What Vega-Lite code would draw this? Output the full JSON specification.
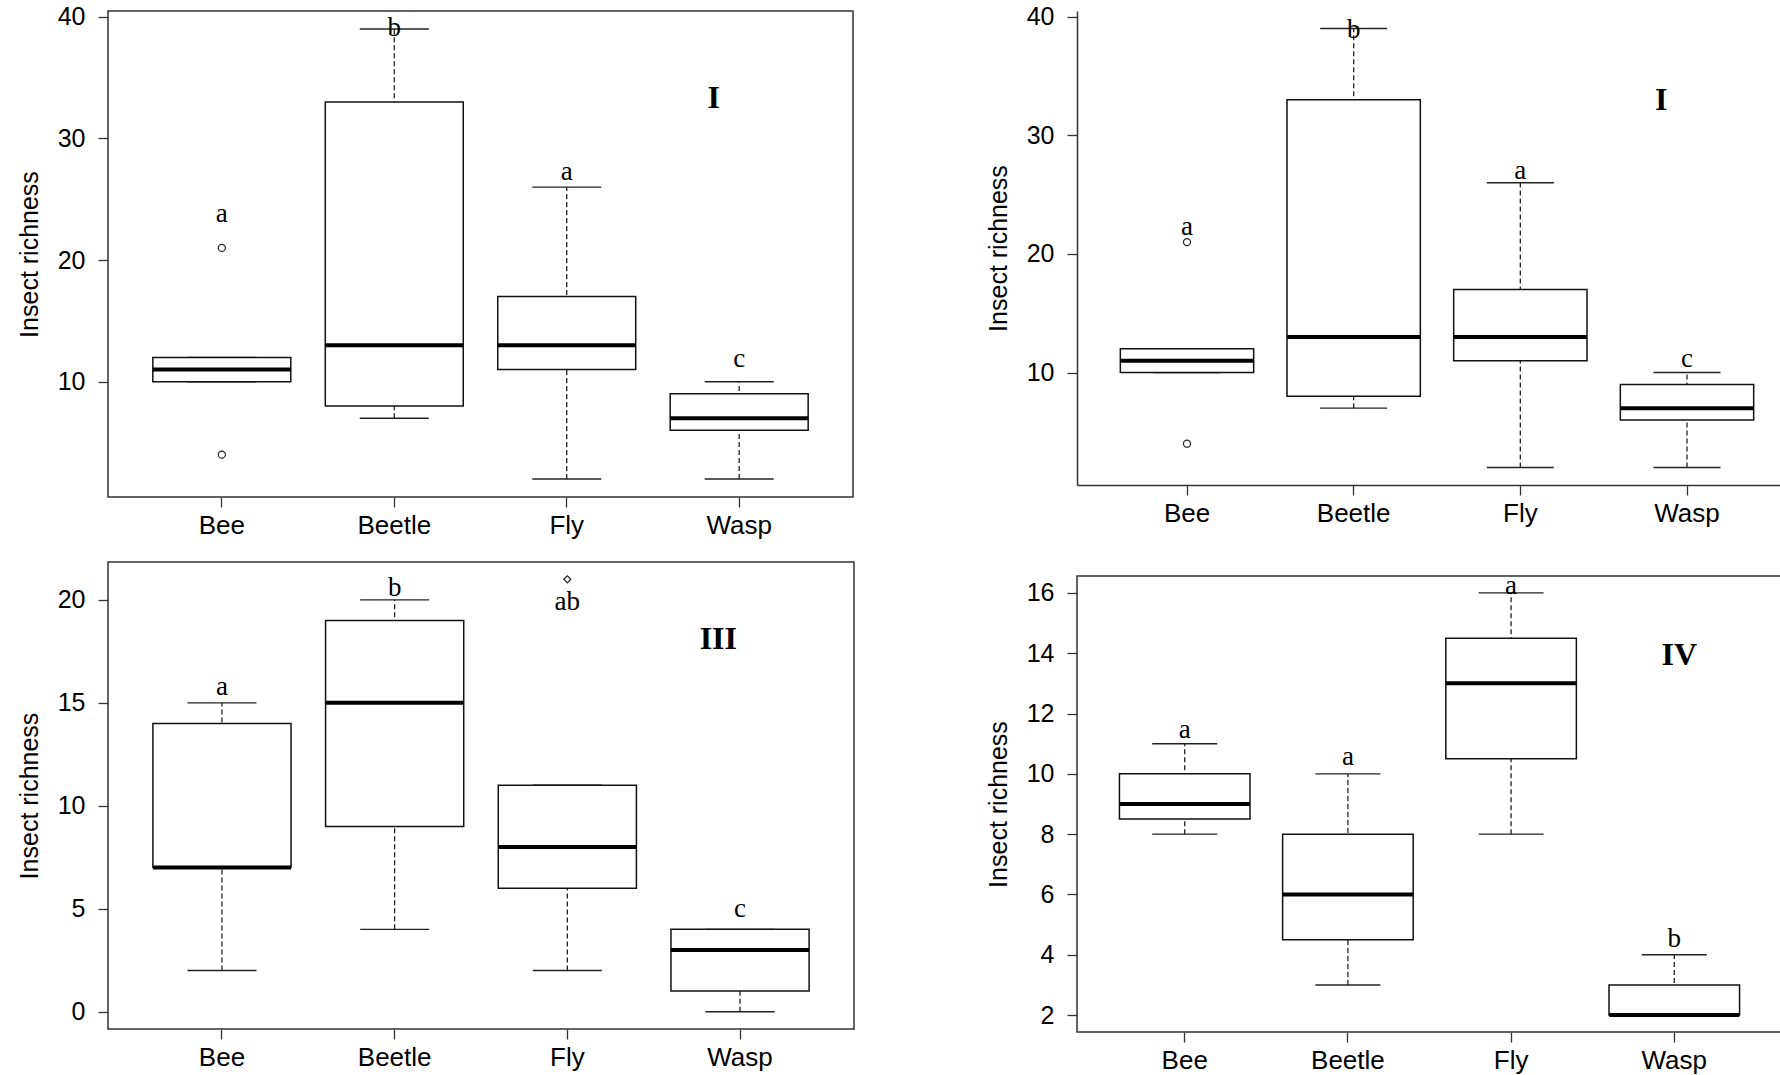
{
  "$schema": "https://vega.github.io/schema/vega-lite/v6.json",
  "background": "white",
  "padding": {"left": 16, "top": 4, "right": 0, "bottom": 0},
  "config": {
    "view": {"stroke": "#333", "strokeWidth": 1.5},
    "tick": {"opacity": 1},
    "axis": {"labelFont": "Liberation Sans", "labelFontSize": 25, "labelColor": "#000", "tickColor": "#333", "tickWidth": 1.3, "tickSize": 10, "domain": false, "grid": false, "titleFont": "Liberation Sans", "titleFontSize": 25, "titleFontWeight": "normal", "titleColor": "#000"},
    "axisX": {"labelFontSize": 26, "labelPadding": 5, "labelAngle": 0},
    "axisY": {"labelPadding": 13, "titlePadding": 15}
  },
  "datasets": {
    "boxes": [
      {"panel": "I", "taxon": "Bee", "lo": 10, "q1": 10, "med": 11, "q3": 12, "hi": 12},
      {"panel": "I", "taxon": "Beetle", "lo": 7, "q1": 8, "med": 13, "q3": 33, "hi": 39},
      {"panel": "I", "taxon": "Fly", "lo": 2, "q1": 11, "med": 13, "q3": 17, "hi": 26},
      {"panel": "I", "taxon": "Wasp", "lo": 2, "q1": 6, "med": 7, "q3": 9, "hi": 10},
      {"panel": "II", "taxon": "Bee", "lo": 10, "q1": 10, "med": 11, "q3": 12, "hi": 12},
      {"panel": "II", "taxon": "Beetle", "lo": 7, "q1": 8, "med": 13, "q3": 33, "hi": 39},
      {"panel": "II", "taxon": "Fly", "lo": 2, "q1": 11, "med": 13, "q3": 17, "hi": 26},
      {"panel": "II", "taxon": "Wasp", "lo": 2, "q1": 6, "med": 7, "q3": 9, "hi": 10},
      {"panel": "III", "taxon": "Bee", "lo": 2, "q1": 7, "med": 7, "q3": 14, "hi": 15},
      {"panel": "III", "taxon": "Beetle", "lo": 4, "q1": 9, "med": 15, "q3": 19, "hi": 20},
      {"panel": "III", "taxon": "Fly", "lo": 2, "q1": 6, "med": 8, "q3": 11, "hi": 11},
      {"panel": "III", "taxon": "Wasp", "lo": 0, "q1": 1, "med": 3, "q3": 4, "hi": 4},
      {"panel": "IV", "taxon": "Bee", "lo": 8, "q1": 8.5, "med": 9, "q3": 10, "hi": 11},
      {"panel": "IV", "taxon": "Beetle", "lo": 3, "q1": 4.5, "med": 6, "q3": 8, "hi": 10},
      {"panel": "IV", "taxon": "Fly", "lo": 8, "q1": 10.5, "med": 13, "q3": 14.5, "hi": 16},
      {"panel": "IV", "taxon": "Wasp", "lo": 2, "q1": 2, "med": 2, "q3": 3, "hi": 4}
    ],
    "outliers": [
      {"panel": "I", "taxon": "Bee", "value": 21},
      {"panel": "I", "taxon": "Bee", "value": 4},
      {"panel": "II", "taxon": "Bee", "value": 21},
      {"panel": "II", "taxon": "Bee", "value": 4},
      {"panel": "III", "taxon": "Fly", "value": 21}
    ],
    "letters": [
      {"panel": "I", "taxon": "Bee", "letter": "a", "y": 23.1},
      {"panel": "I", "taxon": "Beetle", "letter": "b", "y": 38.4},
      {"panel": "I", "taxon": "Fly", "letter": "a", "y": 26.6},
      {"panel": "I", "taxon": "Wasp", "letter": "c", "y": 11.2},
      {"panel": "II", "taxon": "Bee", "letter": "a", "y": 21.6},
      {"panel": "II", "taxon": "Beetle", "letter": "b", "y": 38.2},
      {"panel": "II", "taxon": "Fly", "letter": "a", "y": 26.3},
      {"panel": "II", "taxon": "Wasp", "letter": "c", "y": 10.5},
      {"panel": "III", "taxon": "Bee", "letter": "a", "y": 15.4},
      {"panel": "III", "taxon": "Beetle", "letter": "b", "y": 20.2},
      {"panel": "III", "taxon": "Fly", "letter": "ab", "y": 19.5},
      {"panel": "III", "taxon": "Wasp", "letter": "c", "y": 4.6},
      {"panel": "IV", "taxon": "Bee", "letter": "a", "y": 11.2},
      {"panel": "IV", "taxon": "Beetle", "letter": "a", "y": 10.3},
      {"panel": "IV", "taxon": "Fly", "letter": "a", "y": 15.95},
      {"panel": "IV", "taxon": "Wasp", "letter": "b", "y": 4.25}
    ],
    "numerals": [
      {"panel": "I", "taxon": "Fly", "label": "I", "y": 32.5},
      {"panel": "II", "taxon": "Fly", "label": "I", "y": 32.1},
      {"panel": "III", "taxon": "Fly", "label": "III", "y": 17.6},
      {"panel": "IV", "taxon": "Wasp", "label": "IV", "y": 13.6}
    ]
  },
  "hconcat": [
    {
      "bounds": "flush",
      "spacing": 65,
      "vconcat": [
        {
          "width": 745, "height": 486,
          "layer": [
            {"data": {"name": "boxes"}, "transform": [{"filter": "datum.panel === 'I'"}],
             "mark": {"type": "rule", "strokeDash": [5, 3], "strokeWidth": 1.3, "color": "#222"},
             "encoding": {
               "x": {"field": "taxon", "type": "nominal", "title": null, "scale": {"paddingInner": 0, "paddingOuter": 0.16}},
               "y": {"field": "lo", "type": "quantitative", "title": "Insect richness", "scale": {"domain": [0.52, 40.48], "nice": false, "zero": false}, "axis": {"values": [10, 20, 30, 40]}},
               "y2": {"field": "hi"}}},
            {"data": {"name": "boxes"}, "transform": [{"filter": "datum.panel === 'I'"}],
             "mark": {"type": "tick", "size": 69, "thickness": 1.4, "color": "#222"},
             "encoding": {"x": {"field": "taxon", "type": "nominal", "title": null}, "y": {"field": "lo", "type": "quantitative", "title": "Insect richness"}}},
            {"data": {"name": "boxes"}, "transform": [{"filter": "datum.panel === 'I'"}],
             "mark": {"type": "tick", "size": 69, "thickness": 1.4, "color": "#222"},
             "encoding": {"x": {"field": "taxon", "type": "nominal", "title": null}, "y": {"field": "hi", "type": "quantitative", "title": "Insect richness"}}},
            {"data": {"name": "boxes"}, "transform": [{"filter": "datum.panel === 'I'"}],
             "mark": {"type": "bar", "width": {"band": 0.8}, "fill": "white", "stroke": "#111", "strokeWidth": 1.5},
             "encoding": {"x": {"field": "taxon", "type": "nominal", "title": null}, "y": {"field": "q1", "type": "quantitative", "title": "Insect richness"}, "y2": {"field": "q3"}}},
            {"data": {"name": "boxes"}, "transform": [{"filter": "datum.panel === 'I'"}],
             "mark": {"type": "tick", "size": 138, "thickness": 4, "color": "#000"},
             "encoding": {"x": {"field": "taxon", "type": "nominal", "title": null}, "y": {"field": "med", "type": "quantitative", "title": "Insect richness"}}},
            {"data": {"name": "outliers"}, "transform": [{"filter": "datum.panel === 'I'"}],
             "mark": {"type": "point", "shape": "circle", "filled": false, "size": 50, "strokeWidth": 1.2, "color": "#222", "opacity": 1},
             "encoding": {"x": {"field": "taxon", "type": "nominal", "title": null}, "y": {"field": "value", "type": "quantitative", "title": "Insect richness"}}},
            {"data": {"name": "letters"}, "transform": [{"filter": "datum.panel === 'I'"}],
             "mark": {"type": "text", "font": "Liberation Serif", "fontSize": 27, "color": "#000", "baseline": "alphabetic", "align": "center"},
             "encoding": {"x": {"field": "taxon", "type": "nominal", "title": null}, "y": {"field": "y", "type": "quantitative", "title": "Insect richness"}, "text": {"field": "letter"}}},
            {"data": {"name": "numerals"}, "transform": [{"filter": "datum.panel === 'I'"}],
             "mark": {"type": "text", "font": "Liberation Serif", "fontSize": 32, "fontWeight": "bold", "color": "#000", "baseline": "alphabetic", "align": "center", "dx": 147},
             "encoding": {"x": {"field": "taxon", "type": "nominal", "title": null}, "y": {"field": "y", "type": "quantitative", "title": "Insect richness"}, "text": {"field": "label"}}}
          ]
        },
        {
          "width": 746, "height": 467,
          "layer": [
            {"data": {"name": "boxes"}, "transform": [{"filter": "datum.panel === 'III'"}],
             "mark": {"type": "rule", "strokeDash": [5, 3], "strokeWidth": 1.3, "color": "#222"},
             "encoding": {
               "x": {"field": "taxon", "type": "nominal", "title": null, "scale": {"paddingInner": 0, "paddingOuter": 0.16}},
               "y": {"field": "lo", "type": "quantitative", "title": "Insect richness", "scale": {"domain": [-0.84, 21.84], "nice": false, "zero": false}, "axis": {"values": [0, 5, 10, 15, 20]}},
               "y2": {"field": "hi"}}},
            {"data": {"name": "boxes"}, "transform": [{"filter": "datum.panel === 'III'"}],
             "mark": {"type": "tick", "size": 69, "thickness": 1.4, "color": "#222"},
             "encoding": {"x": {"field": "taxon", "type": "nominal", "title": null}, "y": {"field": "lo", "type": "quantitative", "title": "Insect richness"}}},
            {"data": {"name": "boxes"}, "transform": [{"filter": "datum.panel === 'III'"}],
             "mark": {"type": "tick", "size": 69, "thickness": 1.4, "color": "#222"},
             "encoding": {"x": {"field": "taxon", "type": "nominal", "title": null}, "y": {"field": "hi", "type": "quantitative", "title": "Insect richness"}}},
            {"data": {"name": "boxes"}, "transform": [{"filter": "datum.panel === 'III'"}],
             "mark": {"type": "bar", "width": {"band": 0.8}, "fill": "white", "stroke": "#111", "strokeWidth": 1.5},
             "encoding": {"x": {"field": "taxon", "type": "nominal", "title": null}, "y": {"field": "q1", "type": "quantitative", "title": "Insect richness"}, "y2": {"field": "q3"}}},
            {"data": {"name": "boxes"}, "transform": [{"filter": "datum.panel === 'III'"}],
             "mark": {"type": "tick", "size": 138, "thickness": 4, "color": "#000"},
             "encoding": {"x": {"field": "taxon", "type": "nominal", "title": null}, "y": {"field": "med", "type": "quantitative", "title": "Insect richness"}}},
            {"data": {"name": "outliers"}, "transform": [{"filter": "datum.panel === 'III'"}],
             "mark": {"type": "point", "shape": "diamond", "filled": false, "size": 50, "strokeWidth": 1.2, "color": "#222", "opacity": 1},
             "encoding": {"x": {"field": "taxon", "type": "nominal", "title": null}, "y": {"field": "value", "type": "quantitative", "title": "Insect richness"}}},
            {"data": {"name": "letters"}, "transform": [{"filter": "datum.panel === 'III'"}],
             "mark": {"type": "text", "font": "Liberation Serif", "fontSize": 27, "color": "#000", "baseline": "alphabetic", "align": "center"},
             "encoding": {"x": {"field": "taxon", "type": "nominal", "title": null}, "y": {"field": "y", "type": "quantitative", "title": "Insect richness"}, "text": {"field": "letter"}}},
            {"data": {"name": "numerals"}, "transform": [{"filter": "datum.panel === 'III'"}],
             "mark": {"type": "text", "font": "Liberation Serif", "fontSize": 32, "fontWeight": "bold", "color": "#000", "baseline": "alphabetic", "align": "center", "dx": 151},
             "encoding": {"x": {"field": "taxon", "type": "nominal", "title": null}, "y": {"field": "y", "type": "quantitative", "title": "Insect richness"}, "text": {"field": "label"}}}
          ]
        }
      ]
    },
    {
      "bounds": "flush",
      "spacing": 91,
      "vconcat": [
        {
          "width": 706, "height": 474,
          "view": {"stroke": null},
          "layer": [
            {"data": {"name": "boxes"}, "transform": [{"filter": "datum.panel === 'II'"}],
             "mark": {"type": "rule", "strokeDash": [5, 3], "strokeWidth": 1.3, "color": "#222"},
             "encoding": {
               "x": {"field": "taxon", "type": "nominal", "title": null, "scale": {"paddingInner": 0, "paddingOuter": 0.118, "align": 0.678}, "axis": {"domain": true, "domainColor": "#333", "domainWidth": 1.5}},
               "y": {"field": "lo", "type": "quantitative", "title": "Insect richness", "scale": {"domain": [0.52, 40.48], "nice": false, "zero": false}, "axis": {"values": [10, 20, 30, 40], "domain": true, "domainColor": "#333", "domainWidth": 1.5}},
               "y2": {"field": "hi"}}},
            {"mark": {"type": "rule", "color": "#333", "strokeWidth": 1.5},
             "encoding": {"y": {"datum": 40.48, "type": "quantitative"}}},
            {"data": {"name": "boxes"}, "transform": [{"filter": "datum.panel === 'II'"}],
             "mark": {"type": "tick", "size": 67, "thickness": 1.4, "color": "#222"},
             "encoding": {"x": {"field": "taxon", "type": "nominal", "title": null}, "y": {"field": "lo", "type": "quantitative", "title": "Insect richness"}}},
            {"data": {"name": "boxes"}, "transform": [{"filter": "datum.panel === 'II'"}],
             "mark": {"type": "tick", "size": 67, "thickness": 1.4, "color": "#222"},
             "encoding": {"x": {"field": "taxon", "type": "nominal", "title": null}, "y": {"field": "hi", "type": "quantitative", "title": "Insect richness"}}},
            {"data": {"name": "boxes"}, "transform": [{"filter": "datum.panel === 'II'"}],
             "mark": {"type": "bar", "width": {"band": 0.8}, "fill": "white", "stroke": "#111", "strokeWidth": 1.5},
             "encoding": {"x": {"field": "taxon", "type": "nominal", "title": null}, "y": {"field": "q1", "type": "quantitative", "title": "Insect richness"}, "y2": {"field": "q3"}}},
            {"data": {"name": "boxes"}, "transform": [{"filter": "datum.panel === 'II'"}],
             "mark": {"type": "tick", "size": 133, "thickness": 4, "color": "#000"},
             "encoding": {"x": {"field": "taxon", "type": "nominal", "title": null}, "y": {"field": "med", "type": "quantitative", "title": "Insect richness"}}},
            {"data": {"name": "outliers"}, "transform": [{"filter": "datum.panel === 'II'"}],
             "mark": {"type": "point", "shape": "circle", "filled": false, "size": 50, "strokeWidth": 1.2, "color": "#222", "opacity": 1},
             "encoding": {"x": {"field": "taxon", "type": "nominal", "title": null}, "y": {"field": "value", "type": "quantitative", "title": "Insect richness"}}},
            {"data": {"name": "letters"}, "transform": [{"filter": "datum.panel === 'II'"}],
             "mark": {"type": "text", "font": "Liberation Serif", "fontSize": 27, "color": "#000", "baseline": "alphabetic", "align": "center"},
             "encoding": {"x": {"field": "taxon", "type": "nominal", "title": null}, "y": {"field": "y", "type": "quantitative", "title": "Insect richness"}, "text": {"field": "letter"}}},
            {"data": {"name": "numerals"}, "transform": [{"filter": "datum.panel === 'II'"}],
             "mark": {"type": "text", "font": "Liberation Serif", "fontSize": 32, "fontWeight": "bold", "color": "#000", "baseline": "alphabetic", "align": "center", "dx": 141},
             "encoding": {"x": {"field": "taxon", "type": "nominal", "title": null}, "y": {"field": "y", "type": "quantitative", "title": "Insect richness"}, "text": {"field": "label"}}}
          ]
        },
        {
          "width": 705, "height": 456,
          "layer": [
            {"data": {"name": "boxes"}, "transform": [{"filter": "datum.panel === 'IV'"}],
             "mark": {"type": "rule", "strokeDash": [5, 3], "strokeWidth": 1.3, "color": "#222"},
             "encoding": {
               "x": {"field": "taxon", "type": "nominal", "title": null, "scale": {"paddingInner": 0, "paddingOuter": 0.16}},
               "y": {"field": "lo", "type": "quantitative", "title": "Insect richness", "scale": {"domain": [1.44, 16.56], "nice": false, "zero": false}, "axis": {"values": [2, 4, 6, 8, 10, 12, 14, 16]}},
               "y2": {"field": "hi"}}},
            {"data": {"name": "boxes"}, "transform": [{"filter": "datum.panel === 'IV'"}],
             "mark": {"type": "tick", "size": 65, "thickness": 1.4, "color": "#222"},
             "encoding": {"x": {"field": "taxon", "type": "nominal", "title": null}, "y": {"field": "lo", "type": "quantitative", "title": "Insect richness"}}},
            {"data": {"name": "boxes"}, "transform": [{"filter": "datum.panel === 'IV'"}],
             "mark": {"type": "tick", "size": 65, "thickness": 1.4, "color": "#222"},
             "encoding": {"x": {"field": "taxon", "type": "nominal", "title": null}, "y": {"field": "hi", "type": "quantitative", "title": "Insect richness"}}},
            {"data": {"name": "boxes"}, "transform": [{"filter": "datum.panel === 'IV'"}],
             "mark": {"type": "bar", "width": {"band": 0.8}, "fill": "white", "stroke": "#111", "strokeWidth": 1.5},
             "encoding": {"x": {"field": "taxon", "type": "nominal", "title": null}, "y": {"field": "q1", "type": "quantitative", "title": "Insect richness"}, "y2": {"field": "q3"}}},
            {"data": {"name": "boxes"}, "transform": [{"filter": "datum.panel === 'IV'"}],
             "mark": {"type": "tick", "size": 130, "thickness": 4, "color": "#000"},
             "encoding": {"x": {"field": "taxon", "type": "nominal", "title": null}, "y": {"field": "med", "type": "quantitative", "title": "Insect richness"}}},
            {"data": {"name": "letters"}, "transform": [{"filter": "datum.panel === 'IV'"}],
             "mark": {"type": "text", "font": "Liberation Serif", "fontSize": 27, "color": "#000", "baseline": "alphabetic", "align": "center"},
             "encoding": {"x": {"field": "taxon", "type": "nominal", "title": null}, "y": {"field": "y", "type": "quantitative", "title": "Insect richness"}, "text": {"field": "letter"}}},
            {"data": {"name": "numerals"}, "transform": [{"filter": "datum.panel === 'IV'"}],
             "mark": {"type": "text", "font": "Liberation Serif", "fontSize": 32, "fontWeight": "bold", "color": "#000", "baseline": "alphabetic", "align": "center", "dx": 5},
             "encoding": {"x": {"field": "taxon", "type": "nominal", "title": null}, "y": {"field": "y", "type": "quantitative", "title": "Insect richness"}, "text": {"field": "label"}}}
          ]
        }
      ]
    }
  ],
  "spacing": 130,
  "bounds": "full"
}
